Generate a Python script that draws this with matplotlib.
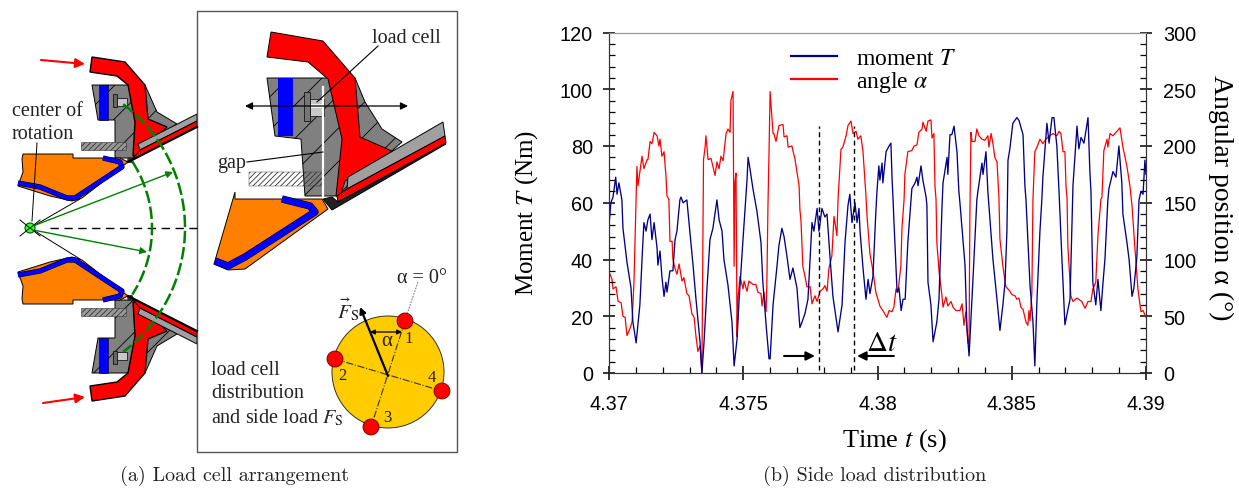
import numpy as np
import matplotlib
matplotlib.use('Agg')
import matplotlib.pyplot as plt
from matplotlib.patches import Circle, Polygon, Rectangle
from matplotlib.ticker import FormatStrFormatter, MultipleLocator

plt.rcParams['font.family'] = ['Liberation Serif', 'DejaVu Serif']
plt.rcParams['mathtext.fontset'] = 'stix'
plt.rcParams['hatch.linewidth'] = 0.6

# measured signals, time in ms after 4.37 s
moment_ms = [0, .07, .15, .25, .30, .37, .48, .52, .67, .82, .89, 1.01, 1.15, 1.23, 1.30, 1.38, 1.45, 1.53, 1.60, 1.68,
             1.79, 1.82, 1.90, 1.97, 2.05, 2.12, 2.16, 2.27, 2.38, 2.46, 2.53, 2.64, 2.68, 2.76, 2.90, 2.98, 3.13, 3.24,
             3.39, 3.46, 3.54, 3.65, 3.76, 3.87, 4.02, 4.10, 4.21, 4.28, 4.43, 4.58, 4.66, 4.77, 4.84, 4.99, 5.14, 5.18,
             5.25, 5.36, 5.51, 5.66, 5.73, 5.85, 5.96, 6.00, 6.11, 6.26, 6.33, 6.44, 6.52, 6.63, 6.74, 6.85, 7.00, 7.11,
             7.19, 7.30, 7.41, 7.56, 7.63, 7.75, 7.82, 7.93, 8.04, 8.12, 8.23, 8.34, 8.53, 8.68, 8.79, 8.90, 8.97, 9.05,
             9.16, 9.24, 9.31, 9.35, 9.46, 9.57, 9.65, 9.72, 9.83, 9.94, 9.98, 10.05, 10.09, 10.17, 10.20, 10.32, 10.43,
             10.50, 10.54, 10.58, 10.61, 10.73, 10.80, 10.88, 10.95, 11.03, 11.13, 11.25, 11.28, 11.40, 11.47, 11.51,
             11.62, 11.69, 11.81, 11.84, 11.88, 11.99, 12.07, 12.21, 12.29, 12.40, 12.44, 12.59, 12.62, 12.70, 12.77,
             12.85, 12.96, 13.03, 13.07, 13.26, 13.33, 13.41, 13.55, 13.70, 13.74, 13.89, 13.93, 14.04, 14.11, 14.19,
             14.30, 14.45, 14.56, 14.67, 14.75, 14.82, 14.86, 14.93, 15.04, 15.19, 15.27, 15.42, 15.49, 15.53, 15.68,
             15.79, 15.86, 15.94, 16.05, 16.12, 16.16, 16.31, 16.39, 16.50, 16.57, 16.68, 16.76, 16.80, 16.87, 16.98,
             17.17, 17.28, 17.43, 17.50, 17.58, 17.69, 17.84, 17.91, 17.95, 18.02, 18.13, 18.21, 18.32, 18.40, 18.47,
             18.58, 18.62, 18.77, 18.88, 18.99, 19.10, 19.14, 19.29, 19.37, 19.48, 19.55, 19.66, 19.74, 19.81, 19.89,
             19.96, 20.00]
moment_T = [52, 60, 62, 69, 63, 67, 61, 51, 39, 30, 18, 10.6, 24, 40, 53, 50, 54, 56, 47, 53,
            44, 38, 43, 34, 27, 32, 28.5, 36, 36, 47, 50, 61, 62, 60, 61, 53, 38, 26,
            11, 0, 11, 30, 47, 51, 61, 54, 50, 40, 31, 18, 2.5, 12, 25, 47, 68, 76,
            72, 65, 57, 46, 32, 17, 5, 5, 24, 38, 45, 51, 48, 41, 33, 37, 30, 16,
            18, 21, 26, 53, 50, 58, 50, 58, 55, 56, 41, 27, 14.5, 24, 46, 59, 63, 53,
            60, 53, 58, 50, 37, 26, 33, 28, 34, 57, 64, 73, 68, 74, 67, 78, 80,
            81, 69, 61, 54, 28.5, 30, 22, 26, 26, 46, 61, 65, 67, 69, 66,
            73, 68, 62, 59, 32, 24, 11, 18, 26, 58, 67, 76, 70, 84, 84,
            87, 78, 64, 60, 38, 16, 6, 32, 61, 64, 74, 70, 78, 64, 54,
            40, 26, 15, 24, 32, 50, 75, 79, 88, 90, 89, 84, 66, 61, 31,
            18, 2.5, 26, 50, 61, 69, 88, 81, 90, 90, 80, 64, 55, 40, 17,
            26, 66, 87, 79, 83, 81, 90, 71, 64, 32, 24, 33, 22, 32, 40,
            61, 65, 71, 69, 80, 67, 56, 46, 40, 27, 30, 41, 61, 64, 63,
            75, 70]

angle_ms = [0, .11, .15, .26, .34, .45, .52, .60, .67, .78, .86, .93, 1.01, 1.04, 1.08, 1.23, 1.30, 1.42, 1.45, 1.53,
            1.60, 1.68, 1.79, 1.86, 1.90, 1.97, 2.05, 2.12, 2.16, 2.23, 2.27, 2.35, 2.38, 2.46, 2.53, 2.61, 2.72, 2.79,
            2.90, 2.98, 3.09, 3.17, 3.24, 3.31, 3.39, 3.46, 3.52, 3.58, 3.61, 3.69, 3.80, 3.87, 3.95, 4.02, 4.10, 4.17,
            4.25, 4.36, 4.43, 4.51, 4.54, 4.62, 4.66, 4.69, 4.73, 4.77, 4.80, 4.88, 4.99, 5.03, 5.14, 5.21, 5.36, 5.47,
            5.55, 5.66, 5.70, 5.77, 5.85, 5.88, 5.92, 5.96, 6.00, 6.07, 6.11, 6.14, 6.22, 6.33, 6.48, 6.52, 6.63, 6.67,
            6.81, 6.93, 7.00, 7.08, 7.11, 7.15, 7.22, 7.30, 7.37, 7.49, 7.56, 7.67, 7.75, 7.86, 7.97, 8.04, 8.12, 8.19,
            8.30, 8.38, 8.49, 8.53, 8.64, 8.71, 8.83, 8.90, 9.01, 9.09, 9.20, 9.27, 9.38, 9.46, 9.57, 9.61, 9.72, 9.83,
            9.94, 10.09, 10.20, 10.35, 10.43, 10.54, 10.61, 10.69, 10.76, 10.87, 10.91, 10.99, 11.02, 11.13, 11.28,
            11.36, 11.47, 11.54, 11.66, 11.69, 11.81, 11.88, 11.99, 12.03, 12.10, 12.14, 12.18, 12.21, 12.29, 12.40,
            12.44, 12.55, 12.62, 12.74, 12.81, 12.92, 13.07, 13.15, 13.22, 13.29, 13.37, 13.41, 13.44, 13.48, 13.52,
            13.63, 13.70, 13.78, 13.89, 14.00, 14.11, 14.15, 14.23, 14.30, 14.37, 14.45, 14.52, 14.56, 14.67, 14.78,
            14.90, 15.01, 15.12, 15.19, 15.27, 15.34, 15.42, 15.53, 15.60, 15.64, 15.68, 15.75, 15.79, 15.86, 15.94,
            16.05, 16.16, 16.27, 16.42, 16.53, 16.68, 16.76, 16.83, 16.91, 16.98, 17.02, 17.06, 17.09, 17.20, 17.28,
            17.43, 17.61, 17.73, 17.84, 17.95, 18.02, 18.13, 18.21, 18.32, 18.36, 18.43, 18.55, 18.58, 18.66, 18.77,
            18.92, 19.03, 19.14, 19.29, 19.40, 19.48, 19.59, 19.70, 19.81, 19.89, 20.00]
angle_deg = [89, 83, 74, 76, 63, 62, 50, 49, 33, 39, 45, 80, 153, 182, 165, 191, 180, 188, 188, 204,
             202, 212, 209, 200, 206, 191, 195, 174, 156, 153, 116, 116, 100, 92, 87, 96, 81, 84,
             70, 68, 52, 49, 32, 19, 24, 0, 188, 199, 209, 188, 189, 182, 174, 186, 180, 191,
             187, 211, 215, 212, 240, 248, 94, 168, 176, 32, 65, 85, 74, 81, 72, 81, 78, 78,
             71, 70, 59, 71, 54, 80, 147, 195, 248, 224, 211, 211, 204, 218, 219, 208, 209, 199,
             200, 188, 177, 165, 144, 134, 94, 85, 76, 76, 61, 68, 63, 72, 74, 77, 72, 92,
             103, 138, 121, 153, 197, 199, 209, 218, 222, 211, 213, 206, 209, 195, 156, 138, 105, 90,
             71, 59, 55, 49, 55, 54, 58, 74, 71, 94, 127, 153, 175, 195, 196,
             200, 201, 212, 215, 221, 213, 222, 223, 207, 211, 165, 153, 115, 90, 68,
             58, 67, 59, 63, 58, 55, 55, 61, 42, 54, 26, 28, 138, 212, 204,
             204, 215, 209, 206, 205, 209, 199, 211, 202, 190, 186, 156, 118, 94, 76,
             73, 69, 68, 65, 66, 58, 56, 45, 42, 55, 46, 71, 153, 195, 199,
             206, 202, 206, 209, 211, 209, 213, 211, 195, 195, 165, 153, 112, 68, 63,
             66, 63, 57, 63, 63, 74, 80, 121, 153, 155, 196, 206, 199, 211, 209,
             213, 216, 199, 182, 165, 147, 109, 74, 54, 55, 49]

moment_ticks = [0, 20, 40, 60, 80, 100, 120]
angle_ticks = [0, 50, 100, 150, 200, 250, 300]
time_ticks = [4.37, 4.375, 4.38, 4.385, 4.39]

# side view of the load cell housing, in figure pixels
horn = [(92, 58), (125, 63), (145, 86), (148, 120), (167, 128), (137, 157), (133, 157), (135, 123), (128, 86), (117, 77), (90, 73)]
housing = [(92, 86), (145, 86), (157, 113), (177, 125), (140, 150), (135, 159), (115, 159), (115, 121), (98, 121)]
plate = [(197, 115), (197, 122), (140, 151), (138, 145)]
plate_red = [(197, 122), (197, 127), (133, 161), (135, 157), (140, 151)]
nozzle = [(23, 155), (73, 155), (73, 159), (120, 159), (128, 163), (82, 199), (72, 202), (50, 197), (18, 187), (23, 173), (22, 160)]
liner = [(18, 184), (40, 188), (67, 199), (75, 199), (122, 168), (120, 163), (103, 159)]

big_horn = [(271, 33), (323, 42), (355, 79), (360, 138), (392, 152), (345, 182), (340, 197), (336, 197), (342, 140), (328, 80), (308, 63), (267, 58)]
big_housing = [(267, 79), (355, 79), (365, 103), (382, 130), (402, 143), (340, 197), (305, 197), (301, 140), (275, 137)]
big_plate = [(443, 123), (445, 137), (347, 190), (348, 178)]
big_plate_red = [(445, 137), (446, 144), (338, 203), (337, 197), (347, 190)]
big_plate_dark = [(446, 145), (332, 211), (323, 200), (332, 198), (338, 203)]
big_nozzle = [(235, 200), (322, 200), (328, 210), (245, 270), (228, 271), (214, 265), (235, 193)]
big_liner = [(215, 262), (228, 267), (245, 258), (315, 213), (310, 207), (282, 200)]

# load cell positions on the ring
cell_xy = [(405, 322), (335, 360), (371, 428), (442, 392)]
cell_labels = ['1', '2', '3', '4']
cell_label_xy = [(409, 339), (342, 376), (387, 418), (432, 378)]

ORANGE = '#FF8000'
GREY = '#808080'


def mirror(pts):
    return [(x, 460 - y) for x, y in pts]


def poly(ax, pts, color, lw=0.7, **kw):
    ax.add_patch(Polygon(pts, closed=True, facecolor=color, edgecolor='black', linewidth=lw, **kw))


def double_line(ax, pts, lw=3):
    xs, ys = zip(*pts)
    ax.plot(xs, ys, color='black', lw=lw + 0.8, solid_joinstyle='round', solid_capstyle='butt')
    ax.plot(xs, ys, color='#0000FF', lw=lw, solid_joinstyle='round', solid_capstyle='butt')


def arrow(ax, start, end, color='black', lw=1.0, style='-|>', scale=10):
    ax.annotate('', xy=end, xytext=start,
                arrowprops=dict(arrowstyle=style, color=color, lw=lw, mutation_scale=scale, shrinkA=0, shrinkB=0))


def small_section(ax, f):
    poly(ax, f(housing), GREY, hatch='/')
    poly(ax, f([(99, 86), (108, 86), (108, 121), (99, 121)]), '#0000FF', lw=0.4)
    poly(ax, f(horn), '#FF0000', lw=1)
    bar = f([(81, 143), (126, 143), (126, 151), (81, 151)])
    ax.add_patch(Polygon(bar, facecolor='#999999', edgecolor='#333333', lw=0.4, hatch='//////'))
    poly(ax, f(plate), '#A0A0A0')
    poly(ax, f(plate_red), '#FF0000')
    xs, ys = zip(*f([(128, 163), (197, 128)]))
    ax.plot(xs, ys, color='black', lw=1.5)
    poly(ax, f(nozzle), ORANGE)
    double_line(ax, f(liner))
    poly(ax, f([(113, 95), (117, 95), (117, 108), (113, 108)]), '#666666', lw=0.5)
    poly(ax, f([(117, 99), (127, 99), (127, 107), (117, 107)]), '#C8C8C8', lw=0.5)
    poly(ax, f([(128, 159), (134, 159), (132, 164), (127, 163)]), '#333333', lw=0.3)


def draw_left(ax):
    small_section(ax, lambda p: p)
    small_section(ax, mirror)

    # flow lines from the centre of rotation
    ax.plot([50, 197], [229, 229], color='black', lw=1, dashes=(6, 4))
    for r, a in [(122, 33), (155, 53)]:
        th = np.radians(np.linspace(-a, a, 100))
        ax.plot(30 + r * np.cos(th), 229 + r * np.sin(th), color='#008000', lw=1.8, dashes=(5, 1.5))
    arrow(ax, (33, 227), (173, 173), color='#008000', lw=1)
    arrow(ax, (33, 231), (147, 253), color='#008000', lw=1)
    ax.plot([37, 32], [144, 222], color='black', lw=0.7)
    ax.plot([30, 80], [229, 200], color='black', lw=0.7)
    ax.plot([30, 80], [229, 260], color='black', lw=0.7)
    ax.plot([20, 40], [221, 237], color='black', lw=0.7)
    ax.plot([20, 40], [237, 221], color='black', lw=0.7)
    ax.add_patch(Circle((30, 229), 5, facecolor='#33FF33', edgecolor='#005500', lw=0.8, zorder=5))
    ax.plot([26, 34], [226, 232], color='black', lw=0.6, zorder=6)
    ax.plot([26, 34], [232, 226], color='black', lw=0.6, zorder=6)

    arrow(ax, (41, 61), (85, 65), color='#FF0000', lw=1.5, scale=14)
    arrow(ax, (43, 404), (85, 398), color='#FF0000', lw=1.5, scale=14)
    ax.text(12, 116, 'center of', fontsize=14.5, color='#222222', va='baseline')
    ax.text(12, 139, 'rotation', fontsize=14.5, color='#222222', va='baseline')


def draw_box(ax):
    ax.add_patch(Rectangle((197, 12), 260, 441, facecolor='white', edgecolor='#555555', lw=1))

    poly(ax, big_housing, GREY, hatch='/')
    ax.add_patch(Rectangle((278, 79), 15, 58, facecolor='#0000FF', edgecolor='none'))
    poly(ax, big_horn, '#FF0000')
    ax.add_patch(Polygon([(249, 173), (323, 173), (323, 187), (249, 187)], facecolor='none', edgecolor='#333333', lw=0.3, hatch='//////'))
    poly(ax, big_plate, '#A0A0A0')
    poly(ax, big_plate_red, '#FF0000')
    poly(ax, big_plate_dark, '#222222')
    ax.plot([323, 323], [88, 198], color='white', lw=1.6)
    poly(ax, big_nozzle, ORANGE)
    double_line(ax, big_liner, lw=4.5)
    poly(ax, [(304, 93), (310, 93), (310, 122), (304, 122)], '#777777', lw=0.5)
    poly(ax, [(310, 100), (324, 100), (324, 117), (310, 117)], '#C8C8C8', lw=0.5)
    ax.add_patch(Rectangle((311, 105), 12, 4, facecolor='#F0F0F0', edgecolor='none'))

    arrow(ax, (245, 107), (408, 107), style='<|-|>', lw=0.9, scale=11)
    ax.plot([378, 317], [47, 103], color='black', lw=0.8)
    ax.plot([247, 323], [163, 153], color='black', lw=0.8)
    ax.text(372, 43, 'load cell', fontsize=14.5, color='#222222')
    ax.text(217, 168, 'gap', fontsize=14.5, color='#222222')

    # load cell ring
    cx, cy = 388, 373
    ax.add_patch(Circle((cx, cy), 56, facecolor='#FFCC00', edgecolor='#333333', lw=0.7))
    ax.plot([cell_xy[0][0], cell_xy[2][0]], [cell_xy[0][1], cell_xy[2][1]], color='#333333', lw=0.8, ls='-.')
    ax.plot([cell_xy[1][0], cell_xy[3][0]], [cell_xy[1][1], cell_xy[3][1]], color='#333333', lw=0.8, ls='-.')
    ax.plot([407, 418], [315, 283], color='#555555', lw=0.6, ls=(0, (2, 1.5)))
    for xy in cell_xy:
        ax.add_patch(Circle(xy, 8, facecolor='#FF0000', edgecolor='#660000', lw=0.6, zorder=4))
    for xy, s in zip(cell_label_xy, cell_labels):
        ax.text(xy[0], xy[1], s, fontsize=12, color='#222222', ha='center', va='center', zorder=5)
    arrow(ax, (388, 377), (360, 308), lw=1.6, scale=9)
    arrow(ax, (370, 333), (402, 333), style='<|-|>', lw=0.9, scale=7)
    ax.text(387, 346, '\u03b1', fontsize=15, color='#222222', ha='center', va='baseline')
    ax.text(397, 283, '\u03b1 = 0\u00b0', fontsize=14.5, color='#222222')
    ax.text(337, 318, r'$\vec{F}_{\mathrm{S}}$', fontsize=15, color='#222222')
    ax.text(211, 375, 'load cell', fontsize=14.5, color='#222222')
    ax.text(211, 398, 'distribution', fontsize=14.5, color='#222222')
    ax.text(211, 423, r'and side load $F_{\mathrm{S}}$', fontsize=14.5, color='#222222')


def draw_signals(fig):
    ax = fig.add_axes([609 / 1239, 1 - 374 / 489, 537 / 1239, 340.5 / 489])
    t_moment = 4.37 + np.array(moment_ms) / 1000
    t_angle = 4.37 + np.array(angle_ms) / 1000
    ax2 = ax.twinx()
    l2, = ax2.plot(t_angle, angle_deg, color='#FF0000', lw=0.9, label=r'angle $\alpha$')
    l1, = ax.plot(t_moment, moment_T, color='#00008B', lw=0.95, label=r'moment $T$')
    ax.set_zorder(ax2.get_zorder() + 1)
    ax.patch.set_visible(False)

    ax.set_xlim(4.37, 4.39)
    ax.set_ylim(0, 120)
    ax2.set_ylim(0, 300)
    ax.set_xticks(time_ticks)
    ax.set_yticks(moment_ticks)
    ax2.set_yticks(angle_ticks)
    ax.xaxis.set_major_formatter(FormatStrFormatter('%g'))
    ax.xaxis.set_minor_locator(MultipleLocator(0.001))
    ax.yaxis.set_minor_locator(MultipleLocator(4))
    ax2.yaxis.set_minor_locator(MultipleLocator(10))

    ax.tick_params(axis='x', which='major', direction='inout', length=10, width=1.1, labelsize=14.3, pad=10)
    ax.tick_params(axis='y', which='major', direction='inout', length=9, width=1.1, labelsize=14.3, pad=7)
    ax2.tick_params(axis='y', which='major', direction='inout', length=9, width=1.1, labelsize=14.3, pad=8)
    for a in (ax, ax2):
        a.tick_params(which='minor', direction='in', length=4.2, width=0.9)
        a.spines['top'].set_color('#999999')
        for s in ('left', 'bottom', 'right'):
            a.spines[s].set_color('#333333')
        for lab in a.get_xticklabels() + a.get_yticklabels():
            lab.set_family('Liberation Sans')

    ax.set_xlabel(r'Time $t$ (s)', fontsize=19)
    ax.xaxis.set_label_coords(0.531, -0.156)
    ax.set_ylabel(r'Moment $T$ (Nm)', fontsize=18, va='center')
    ax.yaxis.set_label_coords(-0.1527, 0.473)
    ax2.set_ylabel('Angular position \u03b1 (\u00b0)', fontsize=20, rotation=-90, va='center')
    ax2.yaxis.set_label_coords(1.1395, 0.517)

    # phase shift markers
    ax.vlines([4.37782, 4.37912], 1, 87, color='black', lw=1, linestyles=(0, (3.5, 2.5)))
    arrow(ax, (4.37652, 6), (4.37767, 6), lw=1.5, scale=13)
    arrow(ax, (4.38061, 6), (4.37924, 6), lw=1.5, scale=13)
    ax.text(4.37958, 8, r'$\Delta t$', fontsize=21, va='baseline')

    leg = ax.legend(handles=[l1, l2], loc='upper left', bbox_to_anchor=(0.3, 1.018), frameon=False, fontsize=17,
                    handlelength=1.95, handletextpad=0.8, labelspacing=0.0)
    for h in leg.get_lines():
        h.set_linewidth(1.6)


fig = plt.figure(figsize=(12.39, 4.89), dpi=100)
sk = fig.add_axes([0, 0, 1, 1])
sk.set_xlim(0, 1239)
sk.set_ylim(489, 0)
sk.axis('off')

draw_left(sk)
draw_box(sk)
draw_signals(fig)

sk.text(234.5, 476, '(a) Load cell arrangement', family='cmr10', fontsize=14.5, color='#222222', ha='center', va='center')
sk.text(875, 476, '(b) Side load distribution', family='cmr10', fontsize=14.5, color='#222222', ha='center', va='center')

fig.savefig('out.png', dpi=100)
